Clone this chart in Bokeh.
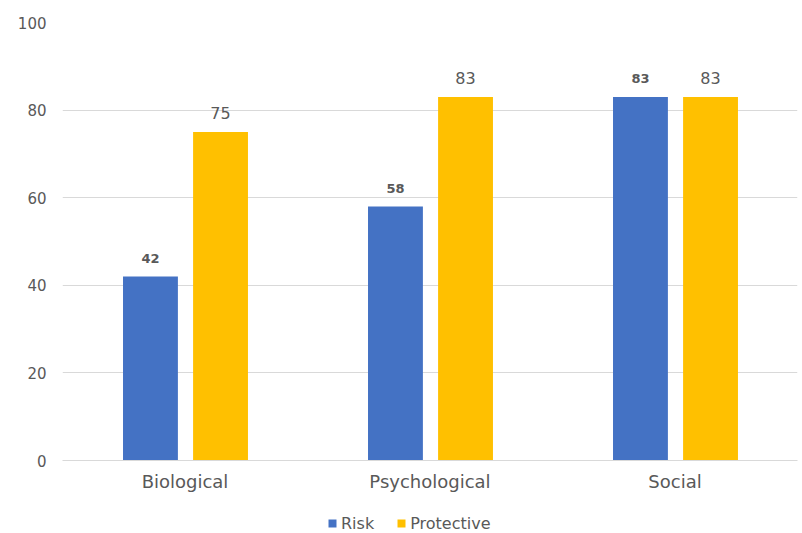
from bokeh.plotting import figure
from bokeh.layouts import column
from bokeh.models import ColumnDataSource, FactorRange, Legend, LegendItem, FixedTicker
from bokeh.transform import dodge
from bokeh.core.properties import value
from bokeh.embed import file_html
from bokeh.resources import INLINE

categories = ["Biological", "Psychological", "Social"]
risk = [42, 58, 83]
protective = [75, 83, 83]
y_ticks = [0, 20, 40, 60, 80, 100]
series_names = ["Risk", "Protective"]

FONT = "DejaVu Sans"
GREY = "#595959"
BLUE = "#4472C4"
YELLOW = "#FFC000"

src = ColumnDataSource(dict(
    cat=categories, risk=risk, protective=protective,
    risk_lbl=[str(v) for v in risk], prot_lbl=[str(v) for v in protective],
))

p = figure(x_range=FactorRange(*categories, range_padding=0), y_range=(0, 100),
           width=802, height=500, output_backend="svg", toolbar_location=None,
           min_border_left=62, min_border_right=5, min_border_top=22, min_border_bottom=40)
p.outline_line_color = None
p.background_fill_color = "white"
p.border_fill_color = "white"

r1 = p.vbar(x=dodge("cat", -0.141, range=p.x_range), top="risk", width=0.224,
            source=src, fill_color=BLUE, line_color=None)
r2 = p.vbar(x=dodge("cat", 0.145, range=p.x_range), top="protective", width=0.224,
            source=src, fill_color=YELLOW, line_color=None)

p.text(x=dodge("cat", -0.141, range=p.x_range), y="risk", text="risk_lbl", source=src,
       text_font=value(FONT), text_font_size="13px", text_font_style="bold",
       text_color=GREY, text_align="center", text_baseline="middle", y_offset=-18)
p.text(x=dodge("cat", 0.145, range=p.x_range), y="protective", text="prot_lbl", source=src,
       text_font=value(FONT), text_font_size="16px",
       text_color=GREY, text_align="center", text_baseline="middle", y_offset=-19)

p.xgrid.grid_line_color = None
p.ygrid.grid_line_color = "#D9D9D9"
p.ygrid.grid_line_width = 1
p.yaxis.ticker = FixedTicker(ticks=y_ticks)
p.yaxis.axis_line_color = None
p.yaxis.major_tick_line_color = None
p.yaxis.minor_tick_line_color = None
p.yaxis.major_label_text_font = FONT
p.yaxis.major_label_text_font_size = "15px"
p.yaxis.major_label_text_color = GREY
p.yaxis.major_label_standoff = 10

p.xaxis.axis_line_color = "#D9D9D9"
p.xaxis.major_tick_line_color = None
p.xaxis.minor_tick_line_color = None
p.xaxis.major_label_text_font = FONT
p.xaxis.major_label_text_font_size = "18px"
p.xaxis.major_label_text_color = GREY
p.xaxis.major_label_standoff = 4

# legend in a separate strip below the chart
lg = figure(width=802, height=33, output_backend="svg", toolbar_location=None,
            x_range=(0, 1), y_range=(0, 1),
            min_border_left=0, min_border_right=0, min_border_top=0, min_border_bottom=0)
lg.axis.visible = False
lg.grid.visible = False
lg.outline_line_color = None
lg.border_fill_color = "white"
lg.background_fill_color = "white"
lr1 = lg.vbar(x=[0.5], top=[0], bottom=[0], width=0, fill_color=BLUE, line_color=None)
lr2 = lg.vbar(x=[0.5], top=[0], bottom=[0], width=0, fill_color=YELLOW, line_color=None)
legend = Legend(items=[LegendItem(label=series_names[0], renderers=[lr1]),
                       LegendItem(label=series_names[1], renderers=[lr2])],
                orientation="horizontal", location=(265, 0),
                label_text_font=FONT, label_text_font_size="16px", label_text_color=GREY,
                glyph_width=10, glyph_height=10, spacing=22, label_standoff=4,
                label_height=20, border_line_color=None, background_fill_alpha=0,
                padding=0, margin=0)
lg.add_layout(legend, "center")

open("out.html", "w").write(file_html(column(p, lg, spacing=0), INLINE))
